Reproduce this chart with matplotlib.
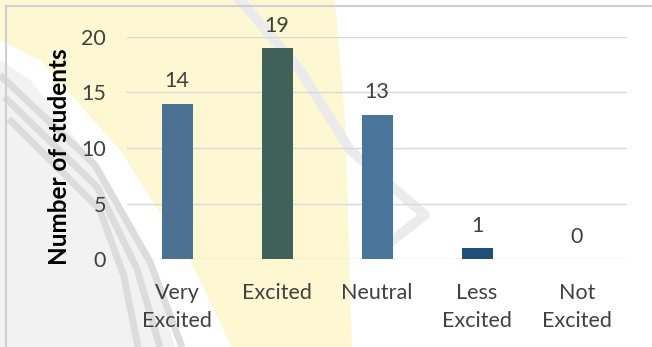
import matplotlib.pyplot as plt
from matplotlib.patches import Polygon

# survey answers
categories = ["Very\nExcited", "Excited", "Neutral", "Less\nExcited", "Not\nExcited"]
students = [14, 19, 13, 1, 0]
bar_colors = ["#4b7193", "#3f6159", "#4a759b", "#1f4e79", "#1f4e79"]
y_ticks = [0, 5, 10, 15, 20]

plt.rcParams['font.family'] = ['Lato', 'DejaVu Sans']
text_color = "#404040"
fs = 15.5

W, H = 652, 347
fig = plt.figure(figsize=(W / 100, H / 100), dpi=100)
fig.patch.set_facecolor("white")

# background layer in pixel units: faint logo and chart frame
bg = fig.add_axes([0, 0, 1, 1], zorder=0)
bg.set_xlim(0, W)
bg.set_ylim(H, 0)
bg.axis("off")
bg.add_patch(Polygon([(0, 0), (335, 0), (345, 120), (352, 347), (232, 347),
                      (190, 260), (120, 150), (40, 60), (0, 40)],
                     closed=True, facecolor="#fdf8d2", edgecolor="none"))
bg.add_patch(Polygon([(0, 60), (30, 80), (100, 170), (150, 260), (175, 347), (0, 347)],
                     closed=True, facecolor="#f2f2f2", edgecolor="none"))
for off in [0, 22, 44]:
    bg.plot([0 + off * 0.2, 95 + off * 0.1, 150 - off * 0.6, 182 - off],
            [75 + off, 165 + off, 262 + off * 0.3, 347],
            color="#dcdcdc", linewidth=5, solid_capstyle="butt")
bg.plot([240, 300, 350, 425, 380], [0, 70, 150, 215, 250],
        color="#ebebeb", linewidth=7)
bg.plot([6, W], [6, 6], color="#d0d0d0", linewidth=1.5)
bg.plot([6, 6], [6, H], color="#d0d0d0", linewidth=1.5)

ax = fig.add_axes([127 / W, 1 - 259 / H, 500 / W, 222 / H], zorder=1)
ax.patch.set_alpha(0)

x = range(len(categories))
ax.bar(x, students, width=0.31, color=bar_colors, zorder=3)
for xi, v in zip(x, students):
    ax.text(xi, v + 1.1, str(v), ha="center", va="bottom", fontsize=fs, color=text_color)

ax.set_xlim(-0.5, len(categories) - 0.5)
ax.set_ylim(0, 20)
ax.set_yticks(y_ticks)
ax.set_xticks(list(x))
ax.set_xticklabels(categories, fontsize=fs, color=text_color, linespacing=1.5)
ax.tick_params(axis="y", labelsize=fs, labelcolor=text_color, length=0, pad=15)
ax.tick_params(axis="x", length=0, pad=17)
ax.grid(axis="y", color="#d9d9d9", linewidth=1, zorder=0)
for s in ax.spines.values():
    s.set_visible(False)
ax.set_ylabel("Number of students", fontsize=17.5, fontweight="bold", color="black")
ax.yaxis.set_label_coords(-0.112, 0.46)

fig.savefig("out.png", dpi=100)
